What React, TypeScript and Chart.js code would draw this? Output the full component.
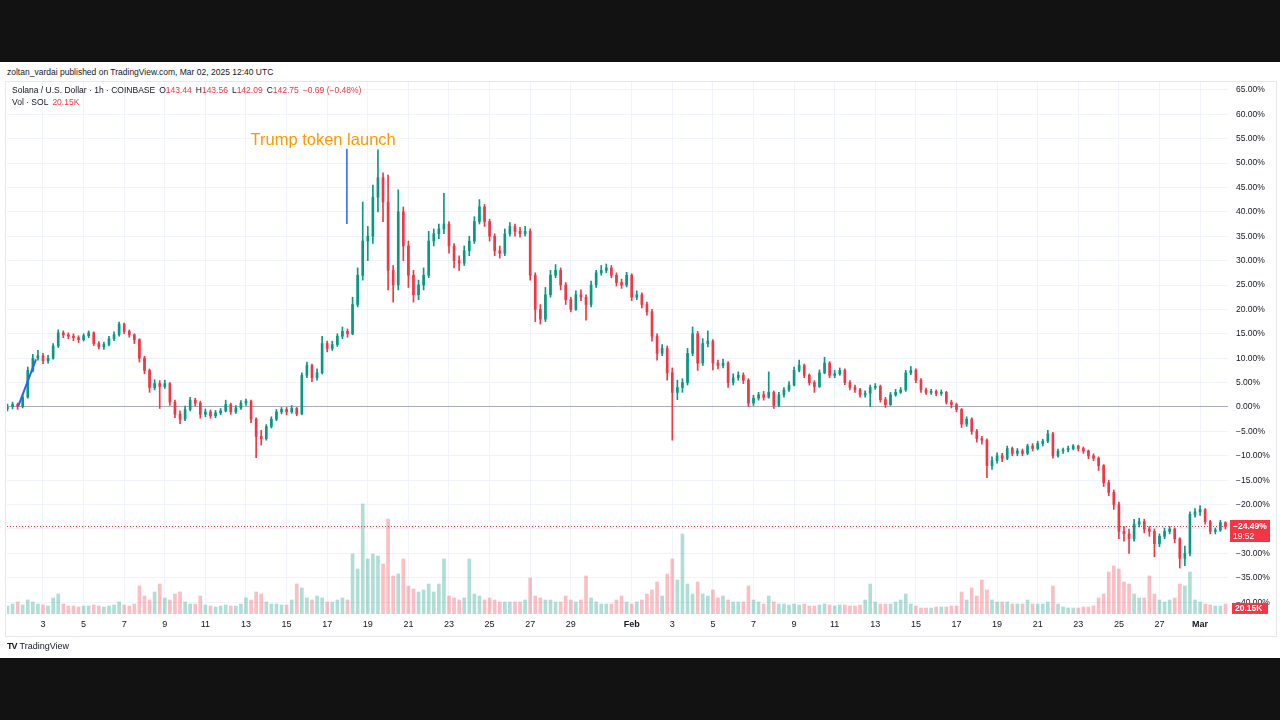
import React, { useEffect, useRef } from 'react';
import { Chart, registerables } from 'chart.js';

Chart.register(...registerables);

// ---------- DATA (percent change vs. first bar, 6-hour candles) ----------
// x positions are days since Jan 1 2025 00:00 UTC
const START_DAY = 0.25;
const STEP_DAY = 0.25;
const firstOpen = -0.3;

const closes = [
  0.0, 0.5, 0.0, 2.0, 7.5, 10.0, 10.5, 9.5, 10.0, 12.5,
  15.2, 14.8, 14.5, 14.2, 13.8, 14.6, 15.2, 13.0, 12.3, 12.8,
  14.0, 14.8, 17.0, 15.5, 14.8, 13.8, 10.0, 7.5, 4.0, 4.8,
  4.2, 4.8, 1.0, -1.5, -2.5, -0.5, 1.4, 0.8, -1.5, -1.0,
  -1.8, -1.2, -0.8, 0.5, -1.0, -0.2, 0.8, 1.2, -2.5, -6.0,
  -6.5, -4.0, -2.5, -1.0, -0.5, -1.0, -0.3, -1.4, 6.5, 8.5,
  6.0, 7.0, 13.0, 12.0, 12.8, 14.5, 15.5, 15.0, 21.0, 27.0,
  34.0, 35.0, 43.0, 47.0, 42.0, 28.0, 25.0, 40.0, 33.0, 27.0,
  23.0, 25.0, 27.0, 34.0, 35.5, 36.5, 37.5, 33.0, 30.0, 29.5,
  32.0, 34.0, 38.0, 41.0, 38.0, 35.0, 32.0, 31.5, 35.5, 37.0,
  36.0, 35.5, 36.0, 27.0, 20.0, 18.0, 23.0, 27.0, 28.0, 25.0,
  22.0, 20.0, 23.0, 22.5, 21.0, 25.0, 27.5, 28.0, 28.5, 27.0,
  25.5, 25.0, 27.0, 22.5, 23.0, 21.0, 19.5, 14.5, 11.0, 12.0,
  7.0, 3.0, 4.0, 5.0, 11.0, 15.0, 9.0, 13.0, 13.5, 9.0,
  8.5, 9.0, 5.0, 6.0, 6.5, 5.5, 0.8, 1.8, 2.5, 2.0,
  3.0, 0.3, 2.5, 3.5, 4.5, 7.5, 8.5, 6.5, 5.0, 4.2,
  7.0, 9.0, 6.5, 6.8, 7.5, 5.0, 4.0, 3.5, 2.5, 2.8,
  4.0, 4.2, 1.5, 0.5, 2.5, 3.0, 3.5, 7.0, 7.5, 5.5,
  3.5, 3.0, 3.2, 2.8, 3.0, 1.0, 0.5, -0.5, -3.5, -2.5,
  -5.0, -6.5, -6.8, -12.0, -11.0, -10.0, -10.5, -8.5, -9.5, -9.0,
  -9.5, -8.0, -8.5, -7.5, -7.0, -5.5, -10.0, -9.0, -8.8, -8.5,
  -8.0, -8.5, -9.0, -10.0, -10.5, -12.0, -15.5, -17.5, -20.0, -25.5,
  -26.0, -27.0, -24.0, -23.5, -25.0, -25.5, -28.0, -26.5, -25.5, -25.0,
  -27.0, -31.0, -30.0, -22.0, -21.5, -21.0, -23.5, -25.5, -25.2, -23.7,
  -24.49,
];

const highs = [
  0.6, 1.0, 0.8, 2.5, 8.2, 10.8, 11.6, 11.0, 10.6, 13.0,
  15.8, 15.6, 15.2, 15.0, 14.6, 15.0, 15.6, 15.4, 13.4, 13.3,
  14.5, 15.4, 17.4, 17.2, 15.8, 15.0, 14.0, 10.4, 7.8, 5.6,
  5.4, 5.5, 5.0, 1.4, -0.8, 0.2, 2.0, 1.8, 1.2, -0.4,
  -0.6, -0.7, -0.3, 1.4, 0.8, 0.3, 1.3, 1.6, 1.4, -2.2,
  -4.8, -3.6, -2.0, -0.5, 0.0, -0.1, 0.3, 0.0, 7.0, 9.2,
  8.8, 7.8, 14.5, 13.5, 13.5, 15.0, 16.4, 16.0, 22.5, 28.5,
  42.0, 37.0, 45.5, 52.7, 48.0, 47.5, 29.0, 44.5, 41.0, 34.0,
  28.0, 26.0, 28.5, 36.0, 36.5, 37.5, 43.8, 38.0, 33.5, 31.0,
  33.0, 35.0, 39.0, 42.5, 41.5, 38.5, 35.5, 33.0, 36.5, 37.8,
  37.5, 36.8, 37.0, 36.5, 27.5, 21.0, 24.5, 28.0, 29.2, 28.5,
  25.5, 22.5, 23.8, 24.0, 23.0, 25.8, 28.0, 29.0, 29.3, 29.0,
  27.5, 26.2, 27.6, 27.3, 23.8, 23.4, 21.5, 20.0, 15.0, 12.8,
  12.5, 8.0, 5.5, 5.8, 12.0, 16.4, 15.5, 14.0, 15.6, 13.8,
  9.6, 9.8, 9.3, 6.8, 7.2, 7.0, 5.8, 2.4, 3.0, 3.2,
  7.2, 3.3, 3.0, 4.0, 5.2, 8.2, 9.6, 8.8, 6.8, 5.4,
  7.6, 10.2, 9.3, 7.5, 8.0, 7.8, 5.4, 4.5, 3.8, 3.3,
  4.5, 4.8, 4.5, 2.0, 3.0, 3.6, 4.0, 7.5, 8.3, 7.8,
  5.8, 3.9, 3.6, 3.5, 3.5, 3.2, 1.4, 0.8, -0.3, -2.0,
  -2.2, -4.6, -6.0, -6.5, -10.2, -9.4, -9.5, -8.0, -8.2, -8.5,
  -8.6, -7.6, -7.5, -7.0, -6.6, -4.8, -5.2, -8.6, -8.4, -8.0,
  -7.7, -7.8, -8.2, -8.8, -9.6, -10.2, -11.8, -15.0, -17.0, -19.5,
  -24.5, -25.0, -23.0, -22.8, -23.0, -24.5, -25.0, -26.0, -24.8, -24.5,
  -24.8, -26.8, -28.5, -21.5, -20.8, -20.2, -20.8, -23.2, -24.8, -23.2,
  -23.5,
];

const lows = [
  -0.8, -0.4, -0.5, -0.2, 1.8, 7.2, 9.6, 8.9, 9.0, 9.8,
  12.2, 14.2, 14.0, 13.6, 13.2, 13.5, 14.2, 12.6, 11.9, 11.8,
  12.5, 13.6, 14.5, 15.0, 14.3, 13.0, 9.2, 6.8, 3.0, 3.5,
  -0.3, 3.8, 0.3, -2.2, -3.4, -2.8, -0.8, 0.2, -2.3, -2.0,
  -2.3, -2.2, -1.6, -1.0, -1.5, -1.3, -0.5, 0.3, -3.2, -10.4,
  -7.8, -6.8, -4.3, -2.8, -1.4, -1.6, -1.3, -1.8, -1.6, 6.0,
  5.2, 5.5, 6.8, 11.3, 11.6, 12.4, 14.0, 14.3, 14.8, 20.5,
  26.0, 30.0, 33.5, 40.0, 38.0, 24.0, 21.5, 24.0, 30.0, 24.5,
  21.5, 22.0, 24.0, 26.5, 33.0, 34.5, 35.5, 31.5, 28.5, 28.0,
  29.0, 31.0, 33.5, 37.5, 37.0, 34.0, 31.0, 30.5, 31.0, 35.0,
  35.0, 34.8, 35.0, 26.0, 17.5, 17.0, 17.5, 22.5, 26.5, 24.0,
  21.0, 19.5, 19.8, 21.8, 17.8, 20.5, 24.5, 27.0, 27.5, 26.5,
  24.8, 24.3, 24.6, 21.8, 22.0, 20.3, 18.8, 13.5, 9.6, 10.5,
  5.5, -6.8, 1.5, 3.0, 4.5, 10.5, 7.5, 8.5, 12.3, 7.6,
  7.8, 8.0, 4.0, 4.5, 5.5, 4.8, 0.0, 0.3, 1.4, 1.4,
  1.8, -0.3, 0.0, 2.0, 3.2, 4.3, 7.2, 6.0, 4.5, 3.0,
  4.0, 6.8, 6.0, 6.0, 6.5, 4.6, 3.5, 3.0, 2.0, 2.0,
  0.0, 3.6, 1.0, -0.1, 0.3, 2.2, 2.8, 3.2, 6.6, 5.0,
  3.0, 2.6, 2.6, 2.3, 2.4, 0.6, -0.2, -1.0, -4.2, -4.0,
  -5.6, -7.2, -7.6, -14.5, -12.8, -11.5, -11.2, -10.8, -10.0, -10.0,
  -10.0, -9.8, -9.0, -8.8, -8.0, -7.3, -10.5, -10.3, -9.5, -9.2,
  -8.8, -9.0, -9.5, -10.6, -11.0, -13.0, -16.3, -18.2, -21.0, -27.0,
  -27.5, -30.0, -27.5, -24.6, -25.8, -26.5, -30.7, -28.6, -27.0, -26.0,
  -27.8, -33.0, -32.5, -30.5, -22.6, -22.2, -24.0, -26.0, -26.0, -25.5,
  -25.0,
];

// volume in thousand SOL (hourly-scale)
const volumes = [
  16, 20, 24, 18, 28, 24, 20, 18, 16, 32,
  40, 20, 16, 16, 14, 16, 16, 18, 16, 14,
  16, 18, 24, 18, 16, 20, 56, 36, 28, 44,
  60, 32, 28, 40, 44, 24, 20, 20, 36, 18,
  16, 14, 16, 18, 16, 16, 20, 32, 28, 44,
  40, 24, 20, 20, 18, 18, 28, 60, 52, 32,
  28, 36, 32, 24, 24, 28, 32, 28, 120, 90,
  220, 110, 120, 116, 100, 190, 76, 80, 110, 56,
  50, 44, 48, 60, 44, 60, 110, 36, 32, 28,
  32, 110, 40, 36, 28, 32, 28, 24, 24, 24,
  24, 24, 28, 72, 36, 32, 28, 28, 24, 24,
  36, 28, 24, 28, 76, 32, 24, 20, 20, 20,
  28, 36, 24, 20, 24, 28, 40, 48, 64, 36,
  80, 110, 68, 160, 60, 40, 64, 40, 36, 48,
  32, 36, 28, 24, 24, 24, 56, 28, 24, 20,
  36, 24, 20, 20, 18, 20, 18, 20, 16, 16,
  18, 20, 18, 16, 18, 18, 16, 16, 18, 28,
  60, 24, 20, 20, 20, 24, 28, 40, 20, 16,
  12, 12, 12, 14, 14, 14, 16, 16, 44, 28,
  52, 36, 68, 48, 28, 24, 24, 24, 20, 20,
  20, 28, 20, 20, 20, 24, 56, 20, 14, 12,
  12, 12, 14, 14, 16, 32, 40, 84, 96, 90,
  64, 60, 40, 32, 32, 76, 40, 28, 24, 28,
  32, 60, 56, 84, 28, 24, 20, 18, 16, 16,
  20,
];

const yTicks = [-40, -35, -30, -25, -20, -15, -10, -5, 0, 5, 10, 15, 20, 25, 30, 35, 40, 45, 50, 55, 60, 65];
const xTickDays = [2, 4, 6, 8, 10, 12, 14, 16, 18, 20, 22, 24, 26, 28, 31, 33, 35, 37, 39, 41, 43, 45, 47, 49, 51, 53, 55, 57, 59];
const xTickLabels = ['3', '5', '7', '9', '11', '13', '15', '17', '19', '21', '23', '25', '27', '29', 'Feb', '3', '5', '7', '9', '11', '13', '15', '17', '19', '21', '23', '25', '27', 'Mar'];

const LAST_PCT = -24.49;
const LAST_TIME = '19:52';
const LAST_VOL_K = 20.15;
const LAST_VOL_LABEL = '20.15K';

const annotText = 'Trump token launch';
const annotTextPos = { x: 15.8, y: 54.7 };
const launchLine = [{ x: 16.97, y: 52.9 }, { x: 16.97, y: 37.5 }];
const trendLine = [{ x: 0.78, y: 0.2 }, { x: 1.655, y: 9.77 }];

const headerText = 'zoltan_vardai published on TradingView.com, Mar 02, 2025 12:40 UTC';
const symbolText = 'Solana / U.S. Dollar · 1h · COINBASE';
const ohlc = [['O', '143.44'], ['H', '143.56'], ['L', '142.09'], ['C', '142.75']];
const changeText = '−0.69 (−0.48%)';

// ---------- layout constants ----------
const X_MIN = 0.2266;
const X_MAX = 60.375;
const Y_MIN = -42.42;
const Y_MAX = 66.6;
const VOL_MAX = 1064;
const FONT = '"Liberation Sans", Arial, sans-serif';
const UP = '#089981';
const DOWN = '#f23645';

const fmtPct = (v: number) => {
  const s = Math.abs(v).toFixed(2) + '%';
  return v < 0 ? '−' + s : s;
};

const overlayPlugin = {
  id: 'overlay',
  afterDatasetsDraw(chart: any) {
    const { ctx, scales } = chart;
    const x = scales.x;
    const y = scales.y;
    ctx.save();
    ctx.font = '16.5px ' + FONT;
    ctx.fillStyle = '#ff9800';
    ctx.textAlign = 'center';
    ctx.textBaseline = 'middle';
    ctx.fillText(annotText, x.getPixelForValue(annotTextPos.x), y.getPixelForValue(annotTextPos.y));
    ctx.restore();
  },
  afterDraw(chart: any) {
    const { ctx, scales, chartArea } = chart;
    const y = scales.y;
    const yv = scales.yv;
    ctx.save();
    const yc = y.getPixelForValue(LAST_PCT);
    const bx = chartArea.right + 2;
    ctx.fillStyle = DOWN;
    ctx.fillRect(bx, yc - 6.5, 40, 22);
    ctx.fillStyle = '#ffffff';
    ctx.font = 'bold 8.5px ' + FONT;
    ctx.textAlign = 'left';
    ctx.textBaseline = 'middle';
    ctx.fillText(fmtPct(LAST_PCT), bx + 3, yc);
    ctx.font = '8.5px ' + FONT;
    ctx.fillText(LAST_TIME, bx + 3, yc + 10);
    const vy = yv.getPixelForValue(LAST_VOL_K);
    ctx.fillStyle = DOWN;
    ctx.fillRect(bx + 2, vy - 1, 36, 11);
    ctx.fillStyle = '#ffffff';
    ctx.font = 'bold 8.5px ' + FONT;
    ctx.fillText(LAST_VOL_LABEL, bx + 5, vy + 4.5);
    ctx.restore();
  },
};

function CandleChart() {
  const ref = useRef<HTMLCanvasElement | null>(null);
  useEffect(() => {
    if (!ref.current) return;
    const times = closes.map((_, i) => START_DAY + i * STEP_DAY);
    const opens = closes.map((c, i) => (i === 0 ? firstOpen : closes[i - 1]));
    const up = closes.map((c, i) => c >= opens[i]);
    const colors = up.map((u) => (u ? UP : DOWN));
    const volColors = up.map((u) => (u ? 'rgba(8,153,129,0.32)' : 'rgba(242,54,69,0.32)'));

    const chart = new Chart(ref.current, {
      type: 'bar',
      data: {
        datasets: [
          {
            type: 'line',
            label: 'launch',
            data: launchLine,
            borderColor: '#2962ff',
            borderWidth: 1.5,
            pointRadius: 0,
            order: -2,
          } as any,
          {
            type: 'line',
            label: 'trend',
            data: trendLine,
            borderColor: '#2962ff',
            borderWidth: 2,
            pointRadius: 0,
            order: -1,
          } as any,
          {
            type: 'bar',
            label: 'body',
            data: times.map((t, i) => ({ x: t, y: [opens[i], closes[i]] })),
            backgroundColor: colors,
            barThickness: 2,
            minBarLength: 1,
            grouped: false,
            yAxisID: 'y',
            order: 0,
          } as any,
          {
            type: 'bar',
            label: 'wick',
            data: times.map((t, i) => ({ x: t, y: [lows[i], highs[i]] })),
            backgroundColor: colors,
            barThickness: 1,
            grouped: false,
            yAxisID: 'y',
            order: 1,
          } as any,
          {
            type: 'line',
            label: 'last',
            data: [{ x: X_MIN, y: LAST_PCT }, { x: X_MAX, y: LAST_PCT }],
            borderColor: DOWN,
            borderWidth: 1,
            borderDash: [1, 2],
            pointRadius: 0,
            yAxisID: 'y',
            order: 2,
          } as any,
          {
            type: 'bar',
            label: 'volume',
            data: times.map((t, i) => ({ x: t, y: volumes[i] })),
            backgroundColor: volColors,
            barThickness: 3,
            grouped: false,
            yAxisID: 'yv',
            order: 3,
          } as any,
        ],
      },
      options: {
        responsive: false,
        animation: false,
        events: [],
        layout: { padding: { left: 7, right: 0, top: 20, bottom: 24 } },
        plugins: { legend: { display: false }, tooltip: { enabled: false } },
        scales: {
          x: {
            type: 'linear',
            min: X_MIN,
            max: X_MAX,
            offset: false,
            grid: { color: '#f0f3fa', drawTicks: false, offset: false },
            border: { display: false },
            ticks: {
              autoSkip: false,
              maxRotation: 0,
              padding: 5,
              color: '#131722',
              font: (ctx: any) => ({
                family: FONT,
                size: 9,
                weight: ctx.tick && (ctx.tick.value === 31 || ctx.tick.value === 59) ? 'bold' : 'normal',
              }),
              callback: (_v: any, i: number) => xTickLabels[i],
            },
            afterBuildTicks: (s: any) => {
              s.ticks = xTickDays.map((v) => ({ value: v }));
            },
            afterFit: (s: any) => {
              s.height = 20;
            },
          },
          y: {
            type: 'linear',
            position: 'right',
            min: Y_MIN,
            max: Y_MAX,
            grid: {
              color: (ctx: any) => (ctx.tick && ctx.tick.value === 0 ? '#a9acb5' : '#f0f3fa'),
              drawTicks: false,
            },
            border: { display: false },
            ticks: {
              padding: 8,
              color: '#131722',
              font: { family: FONT, size: 8.5 },
              callback: (v: any) => fmtPct(Number(v)),
            },
            afterBuildTicks: (s: any) => {
              s.ticks = yTicks.map((v) => ({ value: v }));
            },
            afterFit: (s: any) => {
              s.width = 52;
            },
          },
          yv: {
            type: 'linear',
            display: false,
            min: 0,
            max: VOL_MAX,
          },
        },
      } as any,
      plugins: [overlayPlugin],
    });
    return () => chart.destroy();
  }, []);
  return <canvas ref={ref} width={1280} height={596} style={{ position: 'absolute', left: 0, top: 62, width: 1280, height: 596 }} />;
}

export default function App() {
  const small: React.CSSProperties = { fontFamily: FONT, fontSize: 8.5, color: '#131722', whiteSpace: 'nowrap', position: 'absolute', lineHeight: '10px' };
  return (
    <div style={{ position: 'fixed', left: 0, top: 0, width: 1280, height: 720, background: '#ffffff', overflow: 'hidden' }}>
      <div style={{ position: 'absolute', left: 0, top: 0, width: 1280, height: 62, background: '#121212' }} />
      <div style={{ position: 'absolute', left: 0, top: 658, width: 1280, height: 62, background: '#121212' }} />
      <div style={{ ...small, left: 7, top: 67 }}>{headerText}</div>
      <div style={{ position: 'absolute', left: 5, top: 81, width: 1270, height: 554, border: '1px solid #e6e8ee' }} />
      <CandleChart />
      <div style={{ ...small, left: 12, top: 85 }}>
        <span>{symbolText}</span>
        {ohlc.map(([k, v]) => (
          <span key={k} style={{ marginLeft: 4 }}>
            {k}
            <span style={{ color: DOWN }}>{v}</span>
          </span>
        ))}
        <span style={{ color: DOWN, marginLeft: 4 }}>{changeText}</span>
      </div>
      <div style={{ ...small, left: 12, top: 97 }}>
        <span>Vol · SOL</span>
        <span style={{ color: DOWN, marginLeft: 4 }}>20.15K</span>
      </div>
      <div style={{ ...small, left: 7, top: 641, fontSize: 9 }}>
        <span style={{ fontWeight: 900, letterSpacing: -1, marginRight: 3 }}>TV</span>
        <span>TradingView</span>
      </div>
    </div>
  );
}
